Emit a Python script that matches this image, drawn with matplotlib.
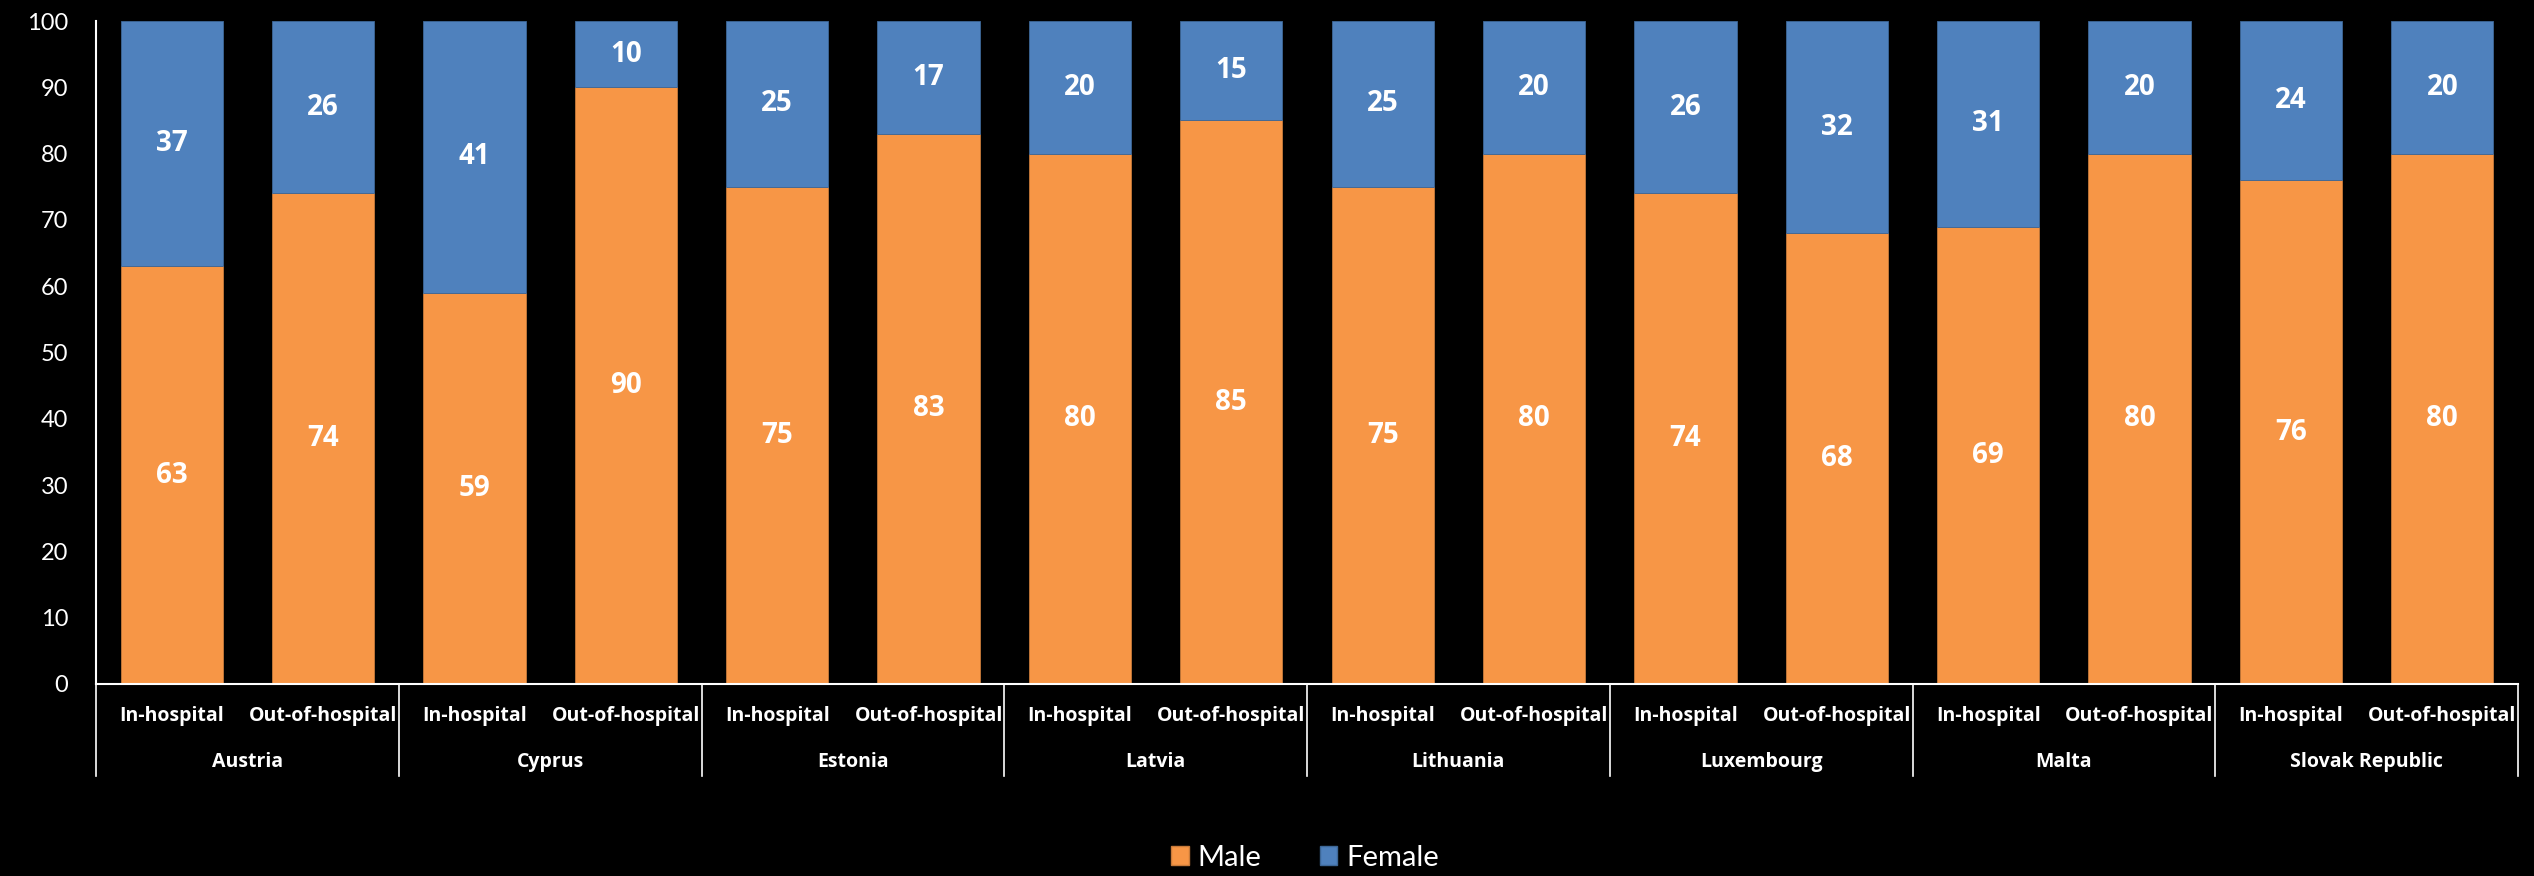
import numpy as np
import matplotlib.pyplot as plt
from matplotlib.patches import Patch
import matplotlib.transforms as mtransforms

plt.rcParams['font.family'] = ['Lato', 'DejaVu Sans']
BOLD_FONT = ['Open Sans', 'DejaVu Sans']

countries = ["Austria", "Cyprus", "Estonia", "Latvia", "Lithuania",
             "Luxembourg", "Malta", "Slovak Republic"]
settings = ["In-hospital", "Out-of-hospital"]
male = [63, 74, 59, 90, 75, 83, 80, 85, 75, 80, 74, 68, 69, 80, 76, 80]
female = [37, 26, 41, 10, 25, 17, 20, 15, 25, 20, 26, 32, 31, 20, 24, 20]

C_MALE = "#F79646"
C_FEMALE = "#4F81BD"

W, H, DPI = 2534, 876, 100
fig = plt.figure(figsize=(W / DPI, H / DPI), dpi=DPI, facecolor="black")
# plot area in pixels: x 96..2518, y 21..684
ax = fig.add_axes([96 / W, (H - 684) / H, (2518 - 96) / W, (684 - 21) / H])
ax.set_facecolor("black")

n = len(male)
x = np.arange(n)
ax.bar(x, male, width=0.675, color=C_MALE, edgecolor="#c77a3a", linewidth=0.6, label="Male")
ax.bar(x, female, width=0.675, bottom=male, color=C_FEMALE, edgecolor="#3d6797", linewidth=0.6, label="Female")

# value labels, centred in each segment
for i in range(n):
    ax.text(x[i], male[i] / 2, str(male[i]), ha="center", va="center",
            color="white", fontsize=20, fontweight="bold", family=BOLD_FONT)
    ax.text(x[i], male[i] + female[i] / 2, str(female[i]), ha="center", va="center",
            color="white", fontsize=20, fontweight="bold", family=BOLD_FONT)

ax.set_xlim(-0.5, n - 0.5)
ax.set_ylim(0, 100)
ax.set_yticks(range(0, 101, 10))
ax.tick_params(axis="y", length=0, pad=20, labelsize=17, labelcolor="white")
ax.set_xticks([])
for s in ["top", "right"]:
    ax.spines[s].set_visible(False)
ax.spines["left"].set_color("white")
ax.spines["bottom"].set_color("white")
ax.spines["left"].set_linewidth(1.5)
ax.spines["bottom"].set_linewidth(1.5)

# two-level category axis
trans = mtransforms.blended_transform_factory(ax.transData, ax.transAxes)
ph = 684 - 21
for i in range(n):
    ax.text(x[i], -32 / ph, settings[i % 2], transform=trans, ha="center", va="center",
            color="white", fontsize=14, fontweight="bold", family=BOLD_FONT, clip_on=False)
for g, name in enumerate(countries):
    ax.text(2 * g + 0.5, -78 / ph, name, transform=trans, ha="center", va="center",
            color="white", fontsize=14, fontweight="bold", family=BOLD_FONT, clip_on=False)
for g in range(len(countries) + 1):
    xb = 2 * g - 0.5
    ax.plot([xb, xb], [0, -92 / ph], transform=trans, color="white", lw=1.2, clip_on=False)

handles = [Patch(facecolor=C_MALE, edgecolor="#c77a3a", label="Male"),
           Patch(facecolor=C_FEMALE, edgecolor="#3d6797", label="Female")]
leg = fig.legend(handles=handles, loc="center", bbox_to_anchor=(0.515, 1 - 858 / H),
                 ncol=2, frameon=False, fontsize=21, handlelength=0.6, handleheight=0.6,
                 columnspacing=2.0, handletextpad=0.3)
for t in leg.get_texts():
    t.set_color("white")

fig.savefig("out.png", dpi=DPI, facecolor="black")
